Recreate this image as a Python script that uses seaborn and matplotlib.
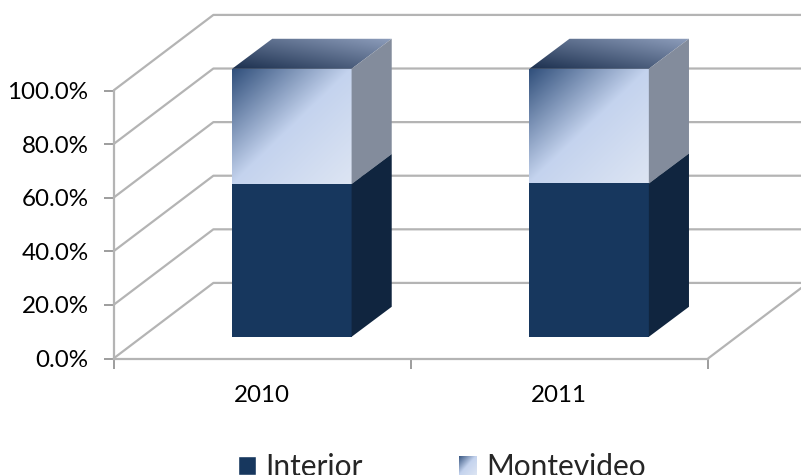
import numpy as np
import pandas as pd
import matplotlib
matplotlib.use('Agg')
import matplotlib.pyplot as plt
from matplotlib.colors import to_rgb
from matplotlib.patches import Patch, Polygon
from matplotlib.transforms import Affine2D
import seaborn as sns

# Data
years = ['2010', '2011']
interior = [57.0, 57.2]
montevideo = [43.0, 42.8]
y_ticks = [0, 20, 40, 60, 80, 100]

GRID = '#b4b4b4'
NAVY = '#17375e'
NAVY_SIDE = '#10253f'
LIGHT_SIDE = '#838c9c'
FRONT_STOPS = [(0.0, '#2f4e7a'), (0.5, '#c4d3ee'), (1.0, '#dde5f3')]
TOP_STOPS = [(0.0, '#1b2f4e'), (1.0, '#8f9fbd')]

# fake 3d offsets, in data units (categories, percent)
WALL_DX, WALL_DY = 0.336, 28.2
BAR_DX, BAR_DY = 0.100, 8.1
SIDE_DX, SIDE_DY = 0.135, 11.2


def gradient_image(stops, n=256):
    """Diagonal gradient between the stops."""
    u = (np.linspace(0, 1, n)[None, :] + np.linspace(0, 1, n)[:, None]) / 2
    pos = [s[0] for s in stops]
    rgb = np.array([to_rgb(s[1]) for s in stops])
    return np.dstack([np.interp(u, pos, rgb[:, i]) for i in range(3)])


def gradient_poly(ax, pts, stops, zorder, origin='upper'):
    pts = np.array(pts)
    im = ax.imshow(gradient_image(stops), aspect='auto', origin=origin, zorder=zorder,
                   extent=(pts[:, 0].min(), pts[:, 0].max(), pts[:, 1].min(), pts[:, 1].max()))
    im.set_clip_box(ax.figure.bbox)
    im.set_clip_path(Polygon(pts, closed=True, transform=ax.transData))


def wall_lines(ax):
    x0, x1 = -0.5, 1.5
    kw = dict(color=GRID, lw=1.6, clip_on=False, zorder=1, solid_capstyle='butt')
    for t in y_ticks:
        ax.plot([x0, x0 + WALL_DX, x1 + WALL_DX], [t, t + WALL_DY, t + WALL_DY], **kw)
    ax.plot([x1, x1 + WALL_DX], [0, WALL_DY], **kw)


sns.set_style('white')
plt.rcParams['font.family'] = ['Lato', 'DejaVu Sans']

W, H = 801, 475
fig = plt.figure(figsize=(W / 100, H / 100), dpi=100)
ax = fig.add_axes([113.5 / W, (H - 358.5) / H, 594.5 / W, 268 / H])
ax.patch.set_alpha(0)

df = pd.DataFrame({'year': years, 'Interior': interior, 'Montevideo': montevideo})
df['total'] = df['Interior'] + df['Montevideo']

sns.barplot(data=df, x='year', y='total', color='#c4d3ee', saturation=1, width=0.402, ax=ax, zorder=3)
n_back = len(ax.patches)
sns.barplot(data=df, x='year', y='Interior', color=NAVY, saturation=1, width=0.402, ax=ax, zorder=5)

ax.set_xlim(-0.5, 1.5)
ax.set_ylim(0, 100)

shift = Affine2D().translate(BAR_DX, BAR_DY)
for bar in ax.patches:
    bar.set_transform(shift + ax.transData)
    bar.set_clip_on(False)
    bar.set_edgecolor('none')

for i in range(n_back):
    tot = ax.patches[i]
    low = ax.patches[n_back + i]
    xl = tot.get_x() + BAR_DX
    xr = xl + tot.get_width()
    y0 = BAR_DY
    ym = low.get_height() + BAR_DY
    yt = tot.get_height() + BAR_DY

    # front of the upper block
    gradient_poly(ax, [(xl, ym), (xr, ym), (xr, yt), (xl, yt)], FRONT_STOPS, 4)
    # top, darkest at its left corner
    gradient_poly(ax, [(xl, yt), (xr, yt), (xr + SIDE_DX, yt + SIDE_DY), (xl + SIDE_DX, yt + SIDE_DY)],
                  TOP_STOPS, 4, origin='lower')
    # sides
    ax.add_patch(Polygon([(xr, ym), (xr + SIDE_DX, ym + SIDE_DY), (xr + SIDE_DX, yt + SIDE_DY), (xr, yt)],
                         closed=True, fc=LIGHT_SIDE, ec='none', zorder=4, clip_on=False))
    ax.add_patch(Polygon([(xr, y0), (xr + SIDE_DX, y0 + SIDE_DY), (xr + SIDE_DX, ym + SIDE_DY), (xr, ym)],
                         closed=True, fc=NAVY_SIDE, ec='none', zorder=5, clip_on=False))

wall_lines(ax)

# imshow resets the limits
ax.set_xlim(-0.5, 1.5)
ax.set_ylim(0, 100)

sns.despine(ax=ax, top=True, right=True)
for side in ['left', 'bottom']:
    ax.spines[side].set_color(GRID)
    ax.spines[side].set_linewidth(1.6)

ax.set_xlabel('')
ax.set_ylabel('')
ax.set_yticks(y_ticks)
ax.set_yticklabels([f'{t:.1f}%' for t in y_ticks], fontsize=17.4, color='black')
ax.set_xticks(range(len(years)))
ax.set_xticklabels(years, fontsize=17.4, color='black')
ax.set_xticks([-0.5, 0.5, 1.5], minor=True)
ax.tick_params(axis='x', which='major', length=0, pad=19)
ax.tick_params(axis='x', which='minor', length=7, width=1.2, color='#8c8c8c', bottom=True)
ax.tick_params(axis='y', which='major', length=7, width=1.2, color='#8c8c8c', pad=11, left=True)

handles = [Patch(fc=NAVY, label='Interior'), Patch(fc='#c4d3ee', label='Montevideo')]
leg = fig.legend(handles=handles, loc='lower left', bbox_to_anchor=(238 / W, -6 / H), ncol=2, frameon=False,
                 fontsize=21.5, handlelength=0.6, handleheight=0.65, handletextpad=0.3, columnspacing=3.25,
                 borderaxespad=0, borderpad=0)

# gradient swatch over the second legend key
fig.canvas.draw()
bb = leg.get_patches()[1].get_window_extent()
sw = fig.add_axes([bb.x0 / W, bb.y0 / H, bb.width / W, bb.height / H], zorder=6)
sw.imshow(gradient_image(FRONT_STOPS), aspect='auto')
sw.axis('off')

fig.savefig('out.png', dpi=100)
